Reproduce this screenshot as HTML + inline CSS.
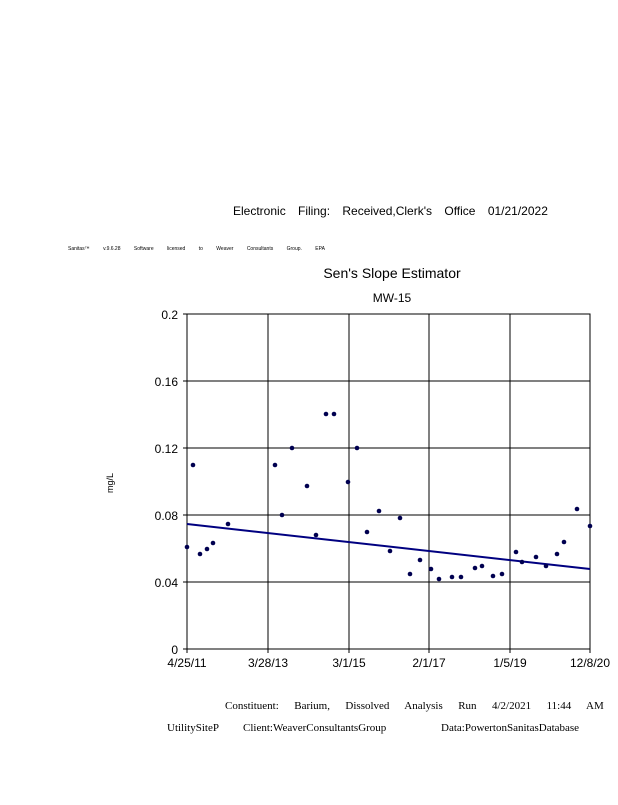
<!DOCTYPE html>
<html><head><style>
body{margin:0;background:#fff;width:618px;height:800px;overflow:hidden;font-family:"Liberation Sans",sans-serif}
</style></head><body>
<svg width="618" height="800" xmlns="http://www.w3.org/2000/svg" font-family="Liberation Sans, sans-serif">
<text x="233" y="215" font-size="12" word-spacing="9">Electronic Filing: Received,Clerk's Office 01/21/2022</text>
<text x="68" y="250" font-size="5" word-spacing="12">Sanitas™ v.9.6.28 Software licensed to Weaver Consultants Group. EPA</text>
<text x="392" y="278" font-size="14" text-anchor="middle">Sen's Slope Estimator</text>
<text x="392" y="302" font-size="12" text-anchor="middle">MW-15</text>
<g stroke="#000" stroke-width="1">
<rect x="187" y="314" width="403" height="335" fill="none"/>
<line x1="268" y1="314" x2="268" y2="653"/><line x1="349" y1="314" x2="349" y2="653"/><line x1="429" y1="314" x2="429" y2="653"/><line x1="510" y1="314" x2="510" y2="653"/><line x1="590" y1="314" x2="590" y2="653"/><line x1="187" y1="314" x2="187" y2="653"/>
<line x1="183" y1="381" x2="590" y2="381"/><line x1="183" y1="448" x2="590" y2="448"/><line x1="183" y1="515" x2="590" y2="515"/><line x1="183" y1="582" x2="590" y2="582"/><line x1="183" y1="649" x2="590" y2="649"/><line x1="183" y1="314" x2="187" y2="314"/>
</g>
<g font-size="12" text-anchor="end">
<text x="178" y="319">0.2</text><text x="178" y="386">0.16</text><text x="178" y="453">0.12</text><text x="178" y="520">0.08</text><text x="178" y="587">0.04</text><text x="178" y="654">0</text>
</g>
<g font-size="12" text-anchor="middle">
<text x="187" y="667">4/25/11</text><text x="268" y="667">3/28/13</text><text x="349" y="667">3/1/15</text><text x="429" y="667">2/1/17</text><text x="510" y="667">1/5/19</text><text x="590" y="667">12/8/20</text>
</g>
<text x="113" y="483" font-size="9" text-anchor="middle" transform="rotate(-90 113 483)">mg/L</text>
<line x1="187" y1="524" x2="590" y2="569" stroke="#000080" stroke-width="2"/>
<g fill="#000050">
<circle cx="187" cy="547" r="2.3"/><circle cx="193" cy="465" r="2.3"/><circle cx="200" cy="554" r="2.3"/><circle cx="207" cy="549" r="2.3"/><circle cx="213" cy="543" r="2.3"/><circle cx="228" cy="524" r="2.3"/><circle cx="275" cy="465" r="2.3"/><circle cx="282" cy="515" r="2.3"/><circle cx="292" cy="448" r="2.3"/><circle cx="307" cy="486" r="2.3"/><circle cx="316" cy="535" r="2.3"/><circle cx="326" cy="414" r="2.3"/><circle cx="334" cy="414" r="2.3"/><circle cx="348" cy="482" r="2.3"/><circle cx="357" cy="448" r="2.3"/><circle cx="367" cy="532" r="2.3"/><circle cx="379" cy="511" r="2.3"/><circle cx="390" cy="551" r="2.3"/><circle cx="400" cy="518" r="2.3"/><circle cx="410" cy="574" r="2.3"/><circle cx="420" cy="560" r="2.3"/><circle cx="431" cy="569" r="2.3"/><circle cx="439" cy="579" r="2.3"/><circle cx="452" cy="577" r="2.3"/><circle cx="461" cy="577" r="2.3"/><circle cx="475" cy="568" r="2.3"/><circle cx="482" cy="566" r="2.3"/><circle cx="493" cy="576" r="2.3"/><circle cx="502" cy="574" r="2.3"/><circle cx="516" cy="552" r="2.3"/><circle cx="522" cy="562" r="2.3"/><circle cx="536" cy="557" r="2.3"/><circle cx="546" cy="566" r="2.3"/><circle cx="557" cy="554" r="2.3"/><circle cx="564" cy="542" r="2.3"/><circle cx="577" cy="509" r="2.3"/><circle cx="590" cy="526" r="2.3"/>
</g>
<g font-family="Liberation Serif, serif" font-size="11">
<text x="225" y="709" word-spacing="12.7">Constituent: Barium, Dissolved Analysis Run 4/2/2021 11:44 AM</text>
<text x="167" y="731">UtilitySiteP</text>
<text x="243" y="731">Client:WeaverConsultantsGroup</text>
<text x="441" y="731">Data:PowertonSanitasDatabase</text>
</g>
</svg>
</body></html>
